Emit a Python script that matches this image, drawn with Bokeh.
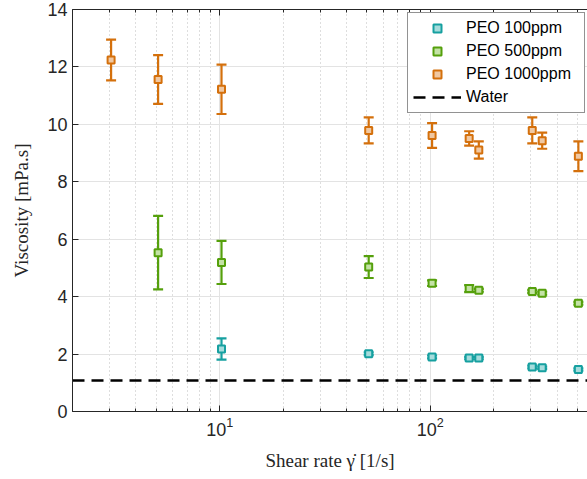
import numpy as np
from bokeh.plotting import figure
from bokeh.models import (ColumnDataSource, Whisker, TeeHead, FixedTicker, LogAxis,
                          Legend, LegendItem, Range1d)
from bokeh.core.properties import value
from bokeh.embed import file_html
from bokeh.resources import INLINE

# ---- data ----
shear_1000 = [3.05, 5.1, 10.2, 51, 102, 153, 170, 305, 340, 505]
visc_1000 = [12.24, 11.56, 11.22, 9.79, 9.61, 9.51, 9.11, 9.79, 9.43, 8.89]
err_1000 = [0.71, 0.85, 0.86, 0.45, 0.43, 0.25, 0.30, 0.45, 0.28, 0.52]

shear_500 = [5.1, 10.2, 51, 102, 153, 170, 305, 340, 505]
visc_500 = [5.53, 5.19, 5.03, 4.47, 4.28, 4.22, 4.18, 4.12, 3.77]
err_500 = [1.28, 0.75, 0.38, 0.10, 0.12, 0.05, 0.05, 0.05, 0.05]

shear_100 = [10.2, 51, 102, 153, 170, 305, 340, 505]
visc_100 = [2.18, 2.01, 1.90, 1.86, 1.86, 1.55, 1.52, 1.46]
err_100 = [0.37, 0.05, 0.05, 0.04, 0.04, 0.05, 0.04, 0.04]

water_visc = 1.08

series_names = ["PEO 100ppm", "PEO 500ppm", "PEO 1000ppm"]
series_colors = ["#16a0a0", "#55a00c", "#d4700c"]
series_tints = ["#a6dcdc", "#c4e2a6", "#f0c8a2"]

x_min, x_max = 2.0, 558.0
y_min, y_max = 0, 14
x_major = [10, 100]
x_minor = [2, 3, 4, 5, 6, 7, 8, 9, 20, 30, 40, 50, 60, 70, 80, 90, 200, 300, 400, 500]
y_ticks = [0, 2, 4, 6, 8, 10, 12, 14]

AX = "#262626"

p = figure(width=587, height=479, output_backend="svg", toolbar_location=None,
           x_axis_type="log", x_range=Range1d(x_min, x_max), y_range=Range1d(y_min, y_max),
           min_border_left=72, min_border_right=0, min_border_top=9, min_border_bottom=68,
           background_fill_color="white", border_fill_color="white")
p.outline_line_color = None

ticker = FixedTicker(ticks=x_major, minor_ticks=x_minor)
p.xaxis.ticker = ticker
p.yaxis.ticker = FixedTicker(ticks=y_ticks)

for ax in (p.xaxis[0], p.yaxis[0]):
    ax.axis_line_color = AX
    ax.axis_line_width = 1
    ax.major_tick_line_color = AX
    ax.minor_tick_line_color = AX
    ax.major_tick_in = 6
    ax.major_tick_out = 0
    ax.minor_tick_in = 3
    ax.minor_tick_out = 0
    ax.major_label_text_font = "Liberation Sans"
    ax.major_label_text_font_size = "18px"
    ax.major_label_text_color = AX
    ax.axis_label_text_font = "Liberation Serif"
    ax.axis_label_text_font_style = "normal"
    ax.axis_label_text_font_size = "19px"
    ax.axis_label_text_color = AX
p.yaxis.minor_tick_line_color = None
p.xaxis.axis_label = "Shear rate \u03b3\u0307 [1/s]"
p.yaxis.axis_label = "Viscosity [mPa.s]"
p.xaxis.axis_label_standoff = 11
p.yaxis.axis_label_standoff = 12

top = LogAxis(ticker=ticker, axis_line_color=AX, major_tick_line_color=AX,
              minor_tick_line_color=AX, major_tick_in=6, major_tick_out=0,
              minor_tick_in=3, minor_tick_out=0, major_label_text_font_size="1px",
              major_label_text_color=None, major_label_standoff=0)
p.add_layout(top, "above")

p.xgrid.grid_line_color = "#e3e3e3"
p.xgrid.grid_line_width = 1
p.xgrid.minor_grid_line_color = "#bdbdbd"
p.xgrid.minor_grid_line_dash = "1 3"
p.ygrid.grid_line_color = "#e3e3e3"

# water line
water_r = p.line(x=[x_min, x_max], y=[water_visc, water_visc], line_color="black",
                 line_width=2.5, line_dash="12 7")

items = []
data = [(shear_100, visc_100, err_100), (shear_500, visc_500, err_500),
        (shear_1000, visc_1000, err_1000)]
for (xs, ys, es), name, col, tint in zip(data, series_names, series_colors, series_tints):
    xs = np.array(xs, dtype=float)
    ys = np.array(ys, dtype=float)
    es = np.array(es, dtype=float)
    src = ColumnDataSource(dict(x=xs, y=ys, lo=ys - es, hi=ys + es))
    w = Whisker(source=src, base="x", lower="lo", upper="hi", dimension="height",
                line_color=col, line_width=2.2,
                upper_head=TeeHead(size=10, line_color=col, line_width=2.2),
                lower_head=TeeHead(size=10, line_color=col, line_width=2.2))
    p.add_layout(w)
    r = p.scatter("x", "y", source=src, marker="square", size=7, line_color=col,
                  line_width=2, fill_color=tint)
    items.append(LegendItem(label=name, renderers=[r]))

items.append(LegendItem(label="Water", renderers=[water_r]))

legend = Legend(items=items, location=(335, 298), padding=5, spacing=3,
                glyph_width=48, glyph_height=20, label_height=20, label_width=113,
                label_standoff=5,
                label_text_font="Liberation Sans", label_text_font_size="16px",
                label_text_color="black", border_line_color=AX, border_line_width=1,
                background_fill_color="white", background_fill_alpha=1, margin=0)
p.add_layout(legend, "center")

open("out.html", "w").write(file_html(p, INLINE))
